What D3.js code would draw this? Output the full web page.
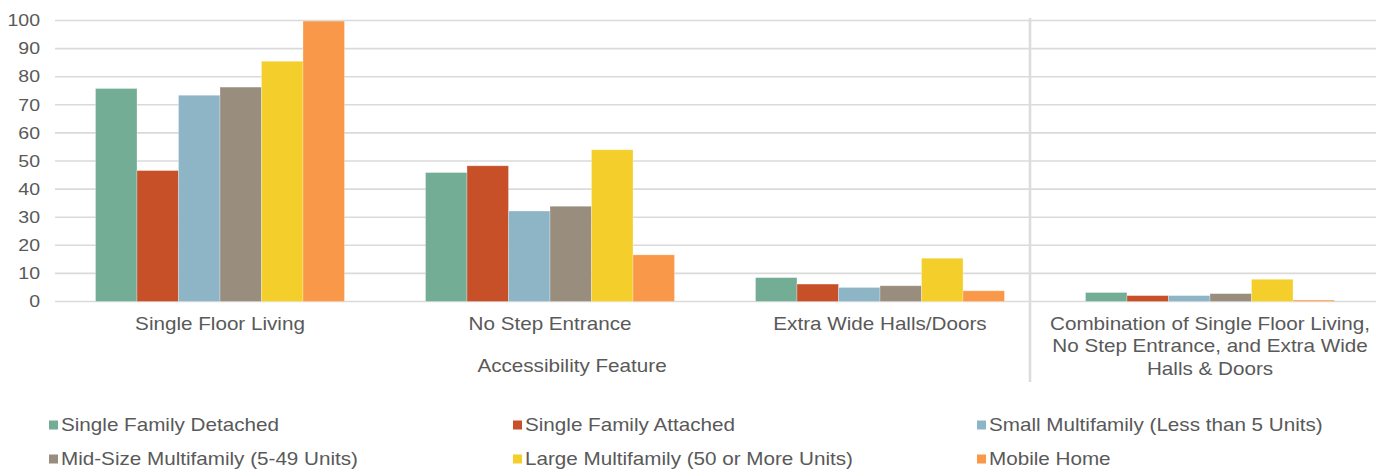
<!DOCTYPE html>
<html>
<head>
<meta charset="utf-8">
<script src="https://cdn.jsdelivr.net/npm/d3@7"></script>
<style>
  body { margin: 0; background: #ffffff; }
  text { font-family: "Liberation Sans", Arial, sans-serif; fill: #595959; }
</style>
</head>
<body>
<svg id="chart" width="1385" height="471"></svg>
<script>
// Accessibility features by housing type (percent)
const categories = [
  "Single Floor Living",
  "No Step Entrance",
  "Extra Wide Halls/Doors",
  "Combination of Single Floor Living, No Step Entrance, and Extra Wide Halls & Doors"
];
const categoryLines = [
  ["Single Floor Living"],
  ["No Step Entrance"],
  ["Extra Wide Halls/Doors"],
  ["Combination of Single Floor Living,", "No Step Entrance, and Extra Wide", "Halls & Doors"]
];
const seriesNames = [
  "Single Family Detached",
  "Single Family Attached",
  "Small Multifamily (Less than 5 Units)",
  "Mid-Size Multifamily (5-49 Units)",
  "Large Multifamily (50 or More Units)",
  "Mobile Home"
];
const singleFamilyDetached = [75.8, 45.9, 8.5, 3.2];
const singleFamilyAttached = [46.6, 48.3, 6.2, 2.1];
const smallMultifamily     = [73.4, 32.2, 5.0, 2.1];
const midSizeMultifamily   = [76.3, 33.9, 5.6, 2.8];
const largeMultifamily     = [85.5, 54.0, 15.4, 7.9];
const mobileHome           = [99.8, 16.6, 3.8, 0.5];
const seriesValues = [singleFamilyDetached, singleFamilyAttached, smallMultifamily,
                      midSizeMultifamily, largeMultifamily, mobileHome];
const seriesColors = ["#74AD96", "#C85028", "#8EB5C6", "#998D7E", "#F4CE2B", "#F89848"];
const yTicks = [0, 10, 20, 30, 40, 50, 60, 70, 80, 90, 100];
const axisTitle = "Accessibility Feature";

const svg = d3.select("#chart");
const stretch = 1.18;

const x0 = d3.scaleBand().domain(categories).range([55, 1375]).padding(0);
const x1 = d3.scaleBand().domain(seriesNames).range([0, x0.bandwidth()])
  .paddingInner(0).paddingOuter(0.976);
const y = d3.scaleLinear().domain([0, 100]).range([301.5, 20.5]);

// horizontal gridlines
svg.append("g").selectAll("line").data(yTicks).join("line")
  .attr("x1", 55).attr("x2", 1376)
  .attr("y1", d => y(d)).attr("y2", d => y(d))
  .attr("stroke", "#DADADA").attr("stroke-width", 1.6);

// y tick labels
svg.append("g").selectAll("text").data(yTicks).join("text")
  .attr("transform", d => `translate(40,${y(d)}) scale(${stretch + 0.04},1)`)
  .attr("text-anchor", "end").attr("dy", "0.36em")
  .style("font-size", "16px")
  .text(d => d);

// bars
const groups = svg.append("g").selectAll("g").data(categories).join("g")
  .attr("transform", d => `translate(${x0(d)},0)`);
groups.selectAll("rect")
  .data((c, ci) => seriesNames.map((s, si) => ({ s, v: seriesValues[si][ci], color: seriesColors[si] })))
  .join("rect")
  .attr("x", d => x1(d.s))
  .attr("width", x1.bandwidth())
  .attr("y", d => y(d.v))
  .attr("height", d => y(0) - y(d.v))
  .attr("fill", d => d.color)
  .attr("stroke", "#ffffff").attr("stroke-opacity", 0.35).attr("stroke-width", 0.8);

// separator before the combined category
svg.append("line")
  .attr("x1", 1030).attr("x2", 1030).attr("y1", 18).attr("y2", 382)
  .attr("stroke", "#DCDCDC").attr("stroke-width", 2.6);

// category labels
const catG = svg.append("g");
categories.forEach((c, i) => {
  const cx = x0(c) + x0.bandwidth() / 2;
  categoryLines[i].forEach((line, li) => {
    catG.append("text")
      .attr("transform", `translate(${cx},${329.5 + li * 22.5}) scale(${stretch},1)`)
      .attr("text-anchor", "middle")
      .style("font-size", "17.5px")
      .text(line);
  });
});

// axis title
svg.append("text")
  .attr("transform", `translate(572,372) scale(${stretch},1)`)
  .attr("text-anchor", "middle")
  .style("font-size", "17.5px")
  .text(axisTitle);

// legend
const legend = svg.append("g");
seriesNames.forEach((name, i) => {
  const col = i % 3, row = Math.floor(i / 3);
  const lx = 49 + col * 464, ly = 425 + row * 34;
  legend.append("rect")
    .attr("x", lx).attr("y", ly - 4.5).attr("width", 9).attr("height", 9)
    .attr("fill", seriesColors[i]);
  legend.append("text")
    .attr("transform", `translate(${lx + 12},${ly}) scale(${stretch},1)`)
    .attr("dy", "0.36em")
    .style("font-size", "17.5px")
    .text(name);
});
</script>
</body>
</html>
